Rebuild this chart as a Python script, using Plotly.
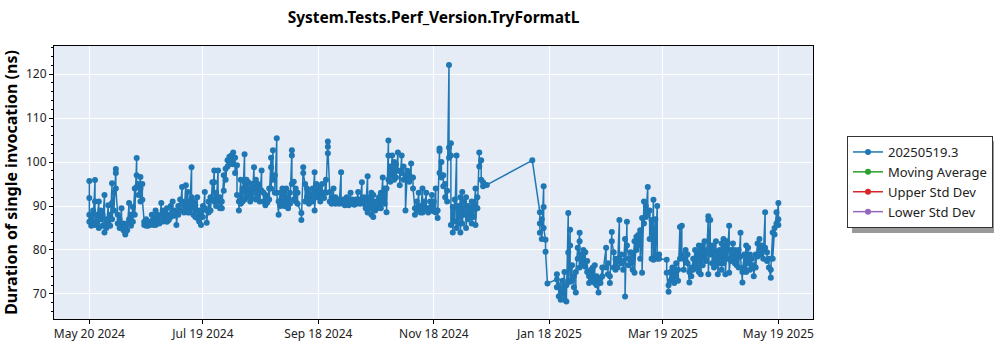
import plotly.graph_objects as go
import pandas as pd

title_text = "System.Tests.Perf_Version.TryFormatL"
y_title = "Duration of single invocation (ns)"
series_name = "20250519.3"
series_color = "#1f77b4"
extra_series = ["Moving Average", "Upper Std Dev", "Lower Std Dev"]
extra_colors = ["#2ca02c", "#d62728", "#9467bd"]
start_date = "2024-05-20"
tick_dates = ["2024-05-20", "2024-07-19", "2024-09-18", "2024-11-18",
              "2025-01-18", "2025-03-19", "2025-05-19"]
y_ticks = [70, 80, 90, 100, 110, 120]

# day offset from start_date of each run day
run_days = (list(range(0, 111)) + list(range(112, 209)) + [210, 234]
            + [238, 239, 240, 241, 242] + list(range(247, 272))
            + list(range(273, 302)) + list(range(305, 365)))

# measured durations (ns) for each run day
daily_values = [
    [95.7, 88, 91.8, 86.4], [87, 85.5], [89, 86], [95.9, 91, 85.7], [88, 86.5],
    [91, 85], [89, 87], [88, 85.5], [92.5, 84], [87, 85],
    [90.2, 86], [88, 85.5], [95.2, 90.7, 87], [93, 89], [98.4, 97.5, 94],
    [88, 86], [87, 85], [89.5, 85.7], [86, 84.5], [84, 83.5, 85],
    [86, 84.5], [90.7, 87], [88, 85.5], [89.8, 86.4], [94, 88],
    [100.9, 97, 94.3], [95, 92.5], [96.6, 94, 91], [95, 91.4], [86.4, 85.7],
    [87, 85.5], [86.5, 85.5], [86.4, 85.7], [88, 86], [87, 85.7],
    [89, 85.7], [88, 86.5], [87.5, 86], [90.7, 87.5], [89, 86.5],
    [88.5, 87], [89.5, 86.4], [88, 86.8], [90, 87.5], [91, 88.5],
    [89, 87.8], [88.5, 85.7], [90, 88], [91.5, 89], [94.3, 91],
    [90, 88.5], [94.7, 89.5], [93.2, 88.5], [91, 88.5], [98.8, 92, 89.5],
    [91, 88], [90.2, 87.5], [92, 87.3], [89, 86.5], [88.5, 85.7],
    [90, 87.5], [93.2, 89.5], [89, 86.2], [91, 88.5], [92, 89],
    [95.4, 91.5], [98.1, 95.4, 91], [93, 90], [98.1, 91], [92, 89.5],
    [91, 89.5], [97, 93.5], [98.5, 96], [100.4, 99], [101.2, 99.5],
    [101.5, 100], [102.2, 99.5], [101, 97.5], [99.3, 92.5], [91, 89],
    [96, 90.5], [94, 91], [101.8, 95.4, 91.5], [96, 92], [95.4, 92.5],
    [94, 91], [95, 91.8], [98.8, 93], [96, 91.5], [95, 92],
    [94, 91], [98.1, 93.5], [93, 91], [92.5, 90.2], [92, 90.8],
    [94, 91.5], [101, 98.8, 94], [102.7, 96], [97, 93], [105.4, 93],
    [88, 91], [93, 90], [94, 90.5], [93, 90], [94, 91],
    [92, 89.5], [93, 90.5], [102.7, 101.5, 95], [95.5, 91.5], [94, 91],
    [93, 90.5],
    # day 112 onward
    [88.4, 86.8], [98.8, 97.5], [95, 91], [94, 92], [93, 90.5],
    [92.5, 91], [94, 91], [97.7, 89], [95, 92], [94.5, 92],
    [93.5, 91], [95, 92.5], [93, 91.8], [96, 93], [104.7, 102, 103.5],
    [93.2, 91], [92, 90.5], [94, 91], [92, 90.5], [91.5, 90.8],
    [91, 90.5], [97.7, 91], [91.5, 90.5], [91, 90.2], [92, 90.5],
    [91, 90.2], [93, 90.8], [91.5, 90.5], [91.2, 90.3], [91.5, 90.5],
    [93.2, 90.8], [91.5, 90.5], [95.4, 91], [92, 90.5], [91.5, 89.5],
    [96.8, 88.5], [92, 89.5], [93, 88], [92.5, 87.5], [91, 89],
    [91, 89.5], [92, 90], [93, 89.5], [96.5, 91], [94, 90.5],
    [94, 88.6], [104.9, 101.5, 96], [99, 95.5], [101.5, 97], [100, 98.6, 96],
    [99.5, 96.5], [102.2, 98], [98, 94.7], [101.5, 97.5], [99, 96],
    [97, 89], [98, 96], [97, 95.5], [99.7, 96.5], [96.5, 94],
    [89.5, 88], [91, 89], [93, 89], [90, 88.5], [94, 88.5],
    [91, 89], [93, 89.5], [89.5, 88.5], [91, 89], [92.5, 89],
    [91, 88.8], [94, 88.5], [89, 87.3], [103.1, 102.5, 97.5], [100, 96.5],
    [97, 94.5], [95, 92], [93.5, 91], [122.1, 103.3, 101], [104.3, 101.5, 85.7],
    [89.8, 84], [91.5, 86.5], [101.5, 85], [90, 86], [92, 84],
    [93.2, 86], [91, 88], [92, 85], [90, 87], [89.5, 87.5],
    [91, 86], [90, 87.5], [94, 85.7], [92, 89.5], [102.2, 99],
    [100.4, 96], [95.4, 94.5],
    [94.8], [100.4],
    # 2025
    [88.6, 83.9, 86], [87, 82.5], [94.5, 89.8, 85], [82.3, 79.6], [72.4],
    [73.3, 71.5, 74.5], [72, 69.5], [71, 68.7], [73, 70], [75, 68.7],
    [72, 68.3], [88.4, 79.4, 73], [84.6, 81, 72.8], [76.5, 73], [74, 71.5],
    [70.3, 75], [80.5, 78], [83.9, 82, 76], [79, 77], [80, 76.5],
    [79.5, 76.2], [77.5, 75], [74, 72.5], [75.5, 73], [76, 73],
    [76.5, 72.5], [74, 72], [70.3, 73], [73.5, 72.5], [76, 74],
    # day 273 onward
    [80.5, 76], [77, 74.5], [74, 72.5], [84.1, 82], [79.5, 76],
    [78, 75.5], [78, 76], [86.8, 77.5], [79, 77], [77.5, 75.5],
    [82.5, 69.4], [86.4, 81], [78, 76.5], [79.5, 77], [78.5, 75.5],
    [82, 74.8], [83, 80], [83.4, 81], [84.5, 78], [87.3, 74.8],
    [91, 86], [90, 87.5], [94.3, 88], [89, 82.5], [86.8, 78],
    [91.4, 77.8], [87, 79], [90, 78], [79, 78],
    # day 305 onward
    [77.8, 74.8], [70.5, 72], [75, 73], [76, 73.5], [75, 72.5],
    [77, 74], [75.5, 73], [85.2, 78], [85.5, 79], [78, 75.5],
    [80, 77.5], [79, 77], [72.6, 75], [76, 74], [78, 75.5],
    [80, 76.5], [79.5, 76], [81, 75], [80.5, 74.5], [81, 76.5],
    [82, 78], [80, 77.5], [87.7, 86.8, 74.5], [86.8, 79], [81, 77],
    [80, 76], [82, 77], [79.5, 74.5], [80, 77], [81.5, 75.5],
    [82.5, 77], [81, 74.5], [82, 78], [85.5, 74.8], [80, 77.5],
    [81.5, 78], [80, 77], [79, 76.5], [80, 76], [83.9, 78.5],
    [72.6, 75], [79, 76], [81, 75], [80.5, 77], [79, 75.5],
    [78, 76], [76.5, 74], [79, 76], [81.5, 78.5], [82.5, 80],
    [81, 79], [80, 78], [88.6, 80.5], [79.5, 77.5], [78, 76],
    [73.7, 75.5], [84, 78], [85, 83.5], [88.6, 86], [90.7, 85.7, 87],
]

base = pd.Timestamp(start_date)
xs, ys = [], []
for d, vals in zip(run_days, daily_values):
    for v in vals:
        xs.append(base + pd.Timedelta(days=d))
        ys.append(v)

font_family = "Noto Sans"
fig = go.Figure()
fig.add_trace(go.Scatter(
    x=xs, y=ys, name=series_name, mode="lines+markers",
    line=dict(color=series_color, width=1.5),
    marker=dict(color=series_color, size=6),
))
for name, col in zip(extra_series, extra_colors):
    fig.add_trace(go.Scatter(
        x=[None], y=[None], name=name, mode="lines+markers",
        line=dict(color=col, width=1.5), marker=dict(color=col, size=6),
    ))

L, R, T, B = 54, 813, 46, 319
W, H = 1000, 350
pw, ph = R - L, B - T

def px_x(p):
    return (p - L) / pw

def px_y(p):
    return (B - p) / ph

# legend drop shadow
fig.add_shape(type="rect", xref="paper", yref="paper",
              x0=px_x(852), x1=px_x(994), y0=px_y(233), y1=px_y(141),
              fillcolor="#9a9a9a", line=dict(width=0), layer="above")

fig.update_layout(
    width=W, height=H,
    margin=dict(l=L, r=W - R, t=T, b=H - B, autoexpand=False),
    paper_bgcolor="white", plot_bgcolor="#E5ECF6",
    font=dict(family=font_family, size=12, color="#222"),
    title=dict(text="<b>" + title_text + "</b>", x=0.5, xref="paper",
               y=1 - 18 / H, yanchor="middle", yref="container",
               font=dict(size=15.5, color="black")),
    showlegend=True,
    legend=dict(x=847 / W, y=1 - 136 / H, xref="container", yref="container",
                xanchor="left", yanchor="top",
                bgcolor="white", bordercolor="#333", borderwidth=1,
                font=dict(size=13, color="#222")),
)
fig.update_xaxes(
    type="date", range=["2024-05-01 08:00", "2025-06-06 07:00"],
    tickvals=tick_dates, tickformat="%b %d %Y",
    showgrid=True, gridcolor="white", gridwidth=1,
    showline=True, linecolor="black", linewidth=1, mirror=True,
    ticks="outside", ticklen=4, tickcolor="black", zeroline=False,
)
fig.update_yaxes(
    range=[64.3, 126.4], tickvals=y_ticks,
    showgrid=True, gridcolor="white", gridwidth=1,
    showline=True, linecolor="black", linewidth=1, mirror=True,
    ticks="outside", ticklen=4, tickcolor="black", zeroline=False,
    minor=dict(dtick=2, ticks="outside", ticklen=2, tickcolor="black", showgrid=False),
    title=dict(text="<b>" + y_title + "</b>", font=dict(size=16, color="black"), standoff=6),
)
fig.write_html("out.html")
